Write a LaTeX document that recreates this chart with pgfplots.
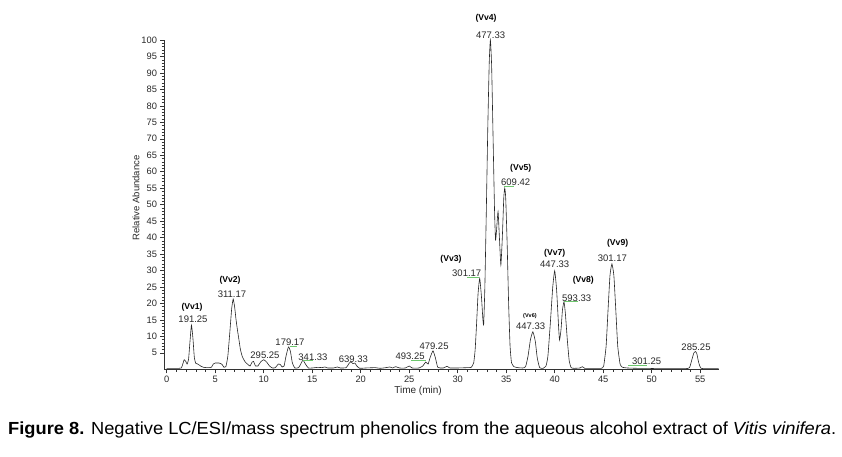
\documentclass[border=0pt]{standalone}
\usepackage{fontspec}
\setmainfont{Liberation Sans}
\usepackage{pgfplots}
\pgfplotsset{compat=1.18}
\usepackage{graphicx}
\definecolor{annot}{RGB}{110,200,110}
\definecolor{txt}{RGB}{40,40,40}
\begin{document}
\begin{tikzpicture}
\path[use as bounding box] (0pt,0pt) rectangle (842pt,457pt);
\begin{axis}[
  at={(164pt,87.7pt)}, anchor=south west,
  scale only axis, width=554.6pt, height=329.3pt,
  xmin=-0.28, xmax=56.9, ymin=0, ymax=100,
  axis x line*=bottom, axis y line*=left,
  axis line style={black!80, line width=0.6pt},
  clip=false,
  xtick={0,5,...,55}, ytick={5,10,...,100},
  minor x tick num=4, minor y tick num=4,
  tick align=outside, major tick length=4pt, minor tick length=2.5pt,
  tick style={black!80, line width=0.5pt},
  /pgf/number format/assume math mode=true,
  tick label style={font=\fontsize{9.3}{11}\selectfont, text=txt},
  yticklabel style={xshift=0.5pt},
  xticklabel style={yshift=1pt},
]
\addplot[black!85, line width=0.6pt, smooth, tension=0.3] table {
x y
0.0 0.3
1.0 0.3
1.5 0.4
1.7 2.0
1.8 2.9
1.95 2.5
2.1 1.6
2.25 3.0
2.4 8.5
2.55 13.4
2.7 9.5
2.85 3.5
3.0 1.8
3.2 1.6
3.5 1.0
3.8 0.6
4.2 0.5
4.6 0.6
4.8 1.6
5.0 1.9
5.4 1.9
5.7 1.5
5.9 0.6
6.1 0.8
6.3 4.0
6.5 11.0
6.7 18.5
6.85 21.3
7.0 19.0
7.15 15.0
7.3 11.8
7.45 8.9
7.6 6.0
7.8 3.8
8.1 2.2
8.4 1.4
8.6 1.0
8.8 2.2
8.95 2.4
9.15 1.0
9.4 1.0
9.7 2.3
10.0 2.9
10.3 2.2
10.6 1.0
10.9 0.4
11.2 0.5
11.5 1.6
11.7 1.5
11.9 0.7
12.1 1.0
12.3 4.0
12.55 6.8
12.75 5.5
12.95 2.0
13.2 0.4
13.6 0.5
13.85 1.8
14.05 2.8
14.3 1.6
14.6 0.4
15.0 0.4
15.6 0.6
16.0 0.5
16.3 0.7
16.6 0.4
17.2 0.4
17.6 0.7
17.9 0.4
18.5 0.5
18.8 1.8
19.0 2.3
19.2 1.7
19.4 1.9
19.6 1.0
19.9 0.3
20.5 0.4
21.5 0.5
22.0 0.3
22.6 0.5
23.0 0.7
23.3 0.4
23.6 0.8
24.0 0.4
24.6 0.4
25.0 1.0
25.3 0.4
26.0 0.4
26.4 1.0
26.7 2.2
26.95 1.6
27.15 3.5
27.45 5.6
27.7 3.5
27.95 0.6
28.5 0.4
28.9 0.9
29.2 0.4
30.0 0.4
31.0 0.5
31.4 0.6
31.65 2.0
31.8 6.0
31.95 14.0
32.1 23.0
32.27 27.6
32.45 22.0
32.6 15.0
32.68 13.8
32.8 25
32.95 48
33.1 73
33.25 93
33.37 100
33.5 92
33.65 70
33.8 48
33.9 39.3
34.0 42
34.16 47.9
34.3 40
34.45 31.7
34.6 40
34.75 52
34.85 55
34.95 52
35.1 38
35.25 20
35.4 7
35.55 2.0
35.8 0.8
36.2 0.5
36.7 0.4
37.0 0.8
37.25 4.0
37.5 9.0
37.75 11.4
38.0 8.5
38.2 3.5
38.45 0.5
38.8 0.3
39.1 1.0
39.3 4.0
39.55 14
39.8 25
40.0 29.9
40.2 24
40.4 13
40.5 8.9
40.65 12
40.8 18
40.96 20.5
41.1 17
41.3 9
41.5 2.5
41.7 0.5
42.0 0.3
42.6 0.4
42.85 0.8
43.1 0.3
44.0 0.3
44.8 0.3
45.05 1.0
45.3 7
45.5 18
45.7 28.5
45.9 32
46.1 28.5
46.3 18
46.5 7
46.75 1.5
47.0 0.6
47.5 0.4
48.5 0.3
49.5 0.3
50.5 0.2
52.0 0.2
53.5 0.2
53.9 0.5
54.15 3
54.35 5
54.5 5.4
54.65 4.8
54.85 2
55.1 0.3
56.0 0.2
56.9 0.2
};
% green annotation markers
\addplot[annot, line width=0.6pt] coordinates {(30.96,27.9) (32.2,27.9)};
\addplot[annot, line width=0.6pt] coordinates {(34.74,55.5) (35.77,55.5)};
\addplot[annot, line width=0.6pt] coordinates {(41.0,20.5) (42.4,20.5)};
\addplot[annot, line width=0.6pt] coordinates {(25.2,2.6) (26.7,2.6)};
\addplot[annot, line width=0.6pt] coordinates {(14.0,2.8) (15.05,2.8)};
\addplot[annot, line width=0.6pt] coordinates {(12.7,7.0) (13.4,7.0)};
\addplot[annot, line width=0.6pt] coordinates {(47.6,1.1) (49.5,1.1)};
% labels
\begin{scope}[every node/.style={font=\fontsize{9.5}{11}\selectfont, text=txt, inner sep=0pt}]
\node at (axis cs:2.71,15.3) {191.25};
\node at (axis cs:6.73,22.9) {311.17};
\node at (axis cs:12.71,8.3) {179.17};
\node at (axis cs:10.13,4.3) {295.25};
\node at (axis cs:15.08,3.8) {341.33};
\node at (axis cs:19.24,3.1) {639.33};
\node at (axis cs:25.09,4.0) {493.25};
\node at (axis cs:27.56,7.1) {479.25};
\node at (axis cs:30.93,29.3) {301.17};
\node at (axis cs:33.4,101.4) {477.33};
\node at (axis cs:35.98,56.8) {609.42};
\node at (axis cs:37.52,13.0) {447.33};
\node at (axis cs:40.0,31.8) {447.33};
\node at (axis cs:42.27,21.7) {593.33};
\node at (axis cs:45.94,33.6) {301.17};
\node at (axis cs:49.48,2.3) {301.25};
\node at (axis cs:54.57,6.8) {285.25};
\end{scope}
\begin{scope}[every node/.style={font=\bfseries\fontsize{8.6}{9}\selectfont, text=black, inner sep=0pt}]
\node at (axis cs:2.61,18.9) {(Vv1)};
\node at (axis cs:6.53,27.1) {(Vv2)};
\node at (axis cs:29.31,33.4) {(Vv3)};
\node at (axis cs:32.92,106.6) {(Vv4)};
\node at (axis cs:36.5,61.0) {(Vv5)};
\node[font=\bfseries\fontsize{5.5}{6}\selectfont] at (axis cs:37.45,16.2) {(Vv6)};
\node at (axis cs:40.0,35.2) {(Vv7)};
\node at (axis cs:42.95,26.9) {(Vv8)};
\node at (axis cs:46.49,38.3) {(Vv9)};
\end{scope}
\end{axis}
\node[font=\fontsize{10}{12}\selectfont, text=txt, inner sep=0pt] at (418pt,66.5pt) {Time (min)};
\node[font=\fontsize{9.5}{11}\selectfont, text=txt, inner sep=0pt, rotate=90] at (136pt,259pt) {Relative Abundance};
\node[anchor=base west, inner sep=0pt] at (8pt,22.7pt) {\resizebox{828pt}{\height}{\fontsize{17.5}{20}\selectfont\textbf{Figure 8.} Negative LC/ESI/mass spectrum phenolics from the aqueous alcohol extract of \textit{Vitis vinifera}.}};
\end{tikzpicture}
\end{document}
